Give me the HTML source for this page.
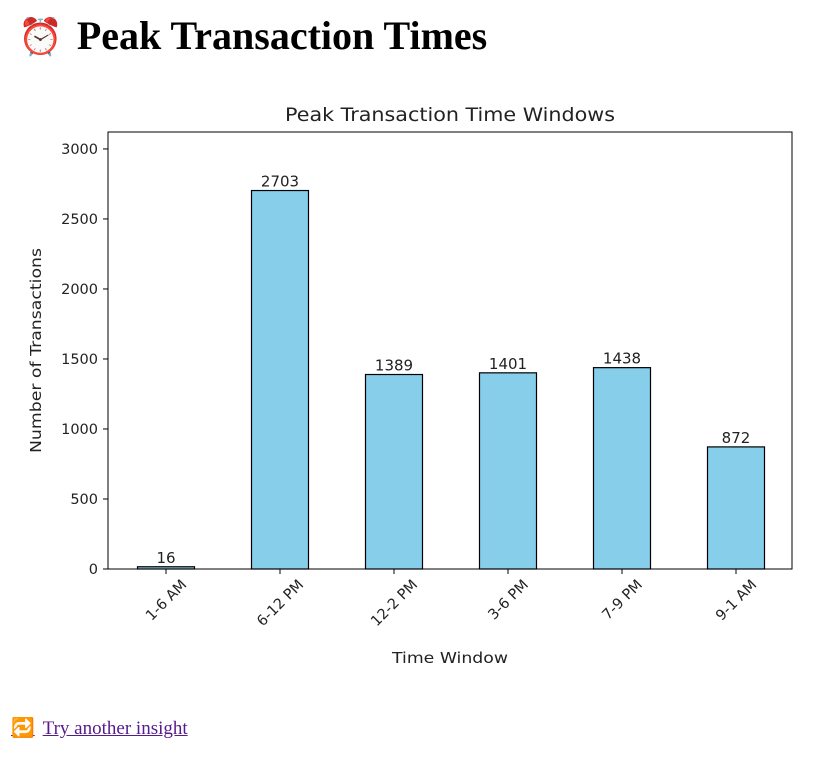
<!DOCTYPE html>
<html><head><meta charset="utf-8">
<style>
body{margin:0;background:#fff;width:838px;height:767px;position:relative;overflow:hidden}
h1{position:absolute;left:18px;top:12px;margin:0;font-family:"Liberation Serif",serif;font-size:40px;font-weight:bold;line-height:48px;white-space:nowrap}
h1 span{font-size:36px;margin-right:14px}
a{position:absolute;left:11px;top:716px;font-family:"Liberation Serif",serif;font-size:19px;color:#551a8b;white-space:nowrap}
a span{margin-right:8px}
svg text{font-family:"DejaVu Sans","Liberation Sans",sans-serif;fill:#222}
</style></head><body>
<h1><span>⏰</span>Peak Transaction Times</h1>
<svg id="chart" width="838" height="767" style="position:absolute;left:0;top:0"></svg>
<a href="#"><span>🔁</span>Try another insight</a>
<script>
const categories=["1-6 AM","6-12 PM","12-2 PM","3-6 PM","7-9 PM","9-1 AM"];
const values=[16,2703,1389,1401,1438,872];
const yTicks=[0,500,1000,1500,2000,2500,3000];
const NS="http://www.w3.org/2000/svg";
const svg=document.getElementById('chart');
const L=108,R=792,T=132,B=569,yMax=3121;
const x=i=>L+1+(R-L)*(i+0.5)/categories.length;
const y=v=>B-(B-T)*v/yMax;
const bw=(R-L)/categories.length*0.5;
function mk(tag,attrs,parent){const e=document.createElementNS(NS,tag);for(const k in attrs)e.setAttribute(k,attrs[k]);(parent||svg).appendChild(e);return e;}
categories.forEach((c,i)=>{
  const r=mk('rect',{x:x(i)-bw/2,y:y(values[i]),width:bw,height:B-y(values[i]),fill:'#87ceeb',stroke:'#000','stroke-width':1.2});
  
  
  const t=mk('text',{x:x(i),y:y(values[i])-4,'text-anchor':'middle','font-size':15});
  t.textContent=values[i];
  
  
  mk('line',{x1:x(i),x2:x(i),y1:B,y2:B+5,stroke:'#000'});
  const tl=mk('text',{'text-anchor':'middle','font-size':14.5});
  tl.textContent=c;
  
  
  const len=tl.getComputedTextLength(),h=14;
  const cy=577+(len+h)/(2*Math.SQRT2);
  tl.setAttribute('transform',`translate(${x(i)},${cy}) rotate(-45)`);
  tl.setAttribute('y',5);
});
yTicks.forEach(v=>{
  mk('line',{x1:L-5,x2:L,y1:y(v),y2:y(v),stroke:'#000'});
  const t=mk('text',{x:L-10,y:y(v)+5,'text-anchor':'end','font-size':14.5});
  t.textContent=v;
  
  
});
const frame=mk('rect',{x:L,y:T,width:R-L,height:B-T,fill:'none',stroke:'#000','stroke-width':1});


const title=mk('text',{x:(L+R)/2,y:121,'text-anchor':'middle','font-size':19,textLength:330,lengthAdjust:'spacingAndGlyphs'});
title.textContent='Peak Transaction Time Windows';


const xt=mk('text',{x:(L+R)/2,y:663,'text-anchor':'middle','font-size':15,textLength:116,lengthAdjust:'spacingAndGlyphs'});
xt.textContent='Time Window';


const yt=mk('text',{x:0,y:0,'text-anchor':'middle','font-size':15,textLength:205,lengthAdjust:'spacingAndGlyphs',transform:`translate(41,${(T+B)/2}) rotate(-90)`});
yt.textContent='Number of Transactions';


</script>
</body></html>
